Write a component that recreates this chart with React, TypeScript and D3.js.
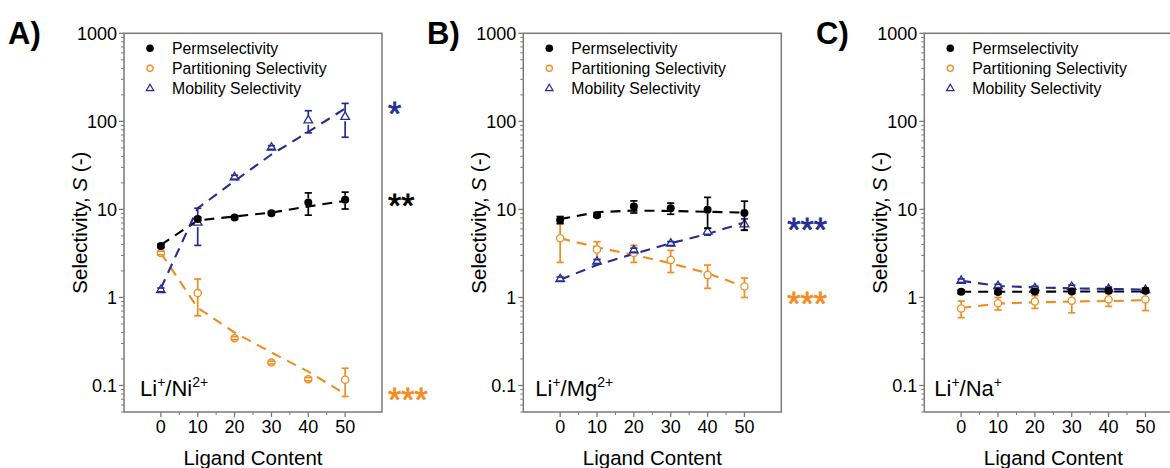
import React from 'react';
import * as d3 from 'd3';

// ---------- data ----------
const ligand = [0, 10, 20, 30, 40, 50];
const xTicks = [0, 10, 20, 30, 40, 50];
const xMinorTicks = [5, 15, 25, 35, 45];
const yTicks = [0.1, 1, 10, 100, 1000];
const yTickLabels = ['0.1', '1', '10', '100', '1000'];
const seriesNames = ['Permselectivity', 'Partitioning Selectivity', 'Mobility Selectivity'];

// Panel A: Li+/Ni2+
const niPerm = [3.85, 7.8, 8.1, 9.05, 12.0, 12.9];
const niPermErr = [0.18, 0.35, 0.35, 0.4, 3.4, 2.8];
const niPart = [3.2, 1.12, 0.345, 0.182, 0.118, 0.116];
const niPartErr = [0.15, 0.5, 0.014, 0.007, 0.005, 0.041];
const niMob = [1.22, 7.1, 23.2, 50.5, 103, 113];
const niMobErr = [0.06, 3.2, 1.2, 2.4, 29, 47];
const niPermFit = [3.95, 7.5, 8.3, 9.2, 10.8, 12.5];
const niPartFit = [3.2, 0.76, 0.4, 0.237, 0.144, 0.08];
const niMobFit = [1.27, 10.3, 21, 42, 76, 140];

// Panel B: Li+/Mg2+
const mgPerm = [7.6, 8.6, 10.8, 10.3, 9.9, 9.1];
const mgPermErr = [0.7, 0.4, 1.7, 1.5, 3.8, 3.3];
const mgPart = [4.7, 3.5, 3.2, 2.67, 1.8, 1.33];
const mgPartErr = [2.2, 0.8, 0.7, 0.75, 0.53, 0.33];
const mgMob = [1.62, 2.56, 3.45, 4.1, 5.6, 6.8];
const mgMobErr = [0.085, 0.13, 0.18, 0.21, 0.5, 1.0];
const mgPermFit = [7.75, 9.3, 9.7, 9.6, 9.4, 9.2];
const mgPartFit = [4.7, 3.72, 3.04, 2.45, 1.88, 1.33];
const mgMobFit = [1.59, 2.34, 3.13, 4.13, 5.27, 7.1];

// Panel C: Li+/Na+
const naPerm = [1.16, 1.15, 1.17, 1.17, 1.19, 1.19];
const naPermErr = [0.05, 0.05, 0.05, 0.05, 0.05, 0.05];
const naPart = [0.75, 0.86, 0.9, 0.92, 0.95, 0.95];
const naPartErr = [0.16, 0.14, 0.15, 0.25, 0.16, 0.24];
const naMob = [1.55, 1.35, 1.28, 1.32, 1.25, 1.22];
const naMobErr = [0.07, 0.06, 0.06, 0.06, 0.06, 0.06];
const naPermFit = [1.16, 1.16, 1.16, 1.17, 1.17, 1.17];
const naPartFit = [0.76, 0.85, 0.88, 0.9, 0.91, 0.93];
const naMobFit = [1.55, 1.35, 1.3, 1.27, 1.25, 1.23];

// significance annotations (text, series, y value)
const niStars = [
  { text: '*', series: 'mob', at: 150 },
  { text: '**', series: 'perm', at: 13.5 },
  { text: '***', series: 'part', at: 0.085 },
];
const mgStars = [
  { text: '***', series: 'mob', at: 7.2 },
  { text: '***', series: 'part', at: 1.04 },
];
const naStars: { text: string; series: string; at: number }[] = [];

// ---------- style ----------
const COLORS: Record<string, string> = { perm: '#000000', part: '#F28C1E', mob: '#262D92' };
const FONT = "'Liberation Sans', Arial, Helvetica, sans-serif";
const AXIS = '#7a7a7a';
const W = 258;
const H = 378.7;
const TOP = 33.3;

const panels = [
  {
    letter: 'A)', letterX: 8, left: 124, ion: ['Li', '+', '/Ni', '2+'], ionDx: 16,
    perm: niPerm, permErr: niPermErr, part: niPart, partErr: niPartErr, mob: niMob, mobErr: niMobErr,
    permFit: niPermFit, partFit: niPartFit, mobFit: niMobFit, stars: niStars,
  },
  {
    letter: 'B)', letterX: 427, left: 523.3, ion: ['Li', '+', '/Mg', '2+'], ionDx: 12,
    perm: mgPerm, permErr: mgPermErr, part: mgPart, partErr: mgPartErr, mob: mgMob, mobErr: mgMobErr,
    permFit: mgPermFit, partFit: mgPartFit, mobFit: mgMobFit, stars: mgStars,
  },
  {
    letter: 'C)', letterX: 816, left: 924.3, ion: ['Li', '+', '/Na', '+'], ionDx: 10,
    perm: naPerm, permErr: naPermErr, part: naPart, partErr: naPartErr, mob: naMob, mobErr: naMobErr,
    permFit: naPermFit, partFit: naPartFit, mobFit: naMobFit, stars: naStars,
  },
];

const x = d3.scaleLinear().domain([-10, 60]).range([0, W]);
const y = d3.scaleLog().domain([0.05, 1000]).range([H, 0]);

const yMinor: number[] = [];
for (let e = -2; e <= 2; e++) {
  for (let m = 2; m <= 9; m++) {
    const v = m * Math.pow(10, e);
    if (v >= 0.05 && v <= 1000) yMinor.push(v);
  }
}

const R: Record<string, number> = { perm: 4, part: 3.8, mob: 4.6 };

function Marker({ type, cx, cy, size = 1 }: { type: string; cx: number; cy: number; size?: number }) {
  const c = COLORS[type];
  if (type === 'perm') return <circle cx={cx} cy={cy} r={4 * size} fill={c} />;
  if (type === 'part')
    return <circle cx={cx} cy={cy} r={3.6 * size} fill="#fff" stroke={c} strokeWidth={1.3} />;
  const s = 4.8 * size;
  const pts = [
    [cx, cy - s],
    [cx + s * 0.9, cy + s * 0.55],
    [cx - s * 0.9, cy + s * 0.55],
  ]
    .map((p) => p.join(','))
    .join(' ');
  return <polygon points={pts} fill="#fff" stroke={c} strokeWidth={1.3} />;
}

function FitLine({ type, fit }: { type: string; fit: number[] }) {
  const c = COLORS[type];
  const line = d3
    .line<number>()
    .x((_, i) => x(ligand[i]))
    .y((d) => y(d))
    .curve(d3.curveLinear);
  return <path d={line(fit) || ''} fill="none" stroke={c} strokeWidth={2.1} strokeDasharray="10,7" />;
}

function Points({ type, vals, errs }: { type: string; vals: number[]; errs: number[] }) {
  const c = COLORS[type];
  const r = R[type];
  return (
    <g>
      {vals.map((v, i) => {
        const cx = x(ligand[i]);
        const cy = y(v);
        const yt = y(v + errs[i]);
        const yb = y(Math.max(v - errs[i], 0.051));
        return (
          <g key={i}>
            <Marker type={type} cx={cx} cy={cy} />
            {cy - r > yt && <line x1={cx} x2={cx} y1={yt} y2={cy - r} stroke={c} strokeWidth={1.7} />}
            {cy + r < yb && <line x1={cx} x2={cx} y1={cy + r} y2={yb} stroke={c} strokeWidth={1.7} />}
            <line x1={cx - 3.6} x2={cx + 3.6} y1={yt} y2={yt} stroke={c} strokeWidth={1.7} />
            <line x1={cx - 3.6} x2={cx + 3.6} y1={yb} y2={yb} stroke={c} strokeWidth={1.7} />
          </g>
        );
      })}
    </g>
  );
}

function Panel({ p }: { p: (typeof panels)[number] }) {
  const starFs = 34;
  return (
    <g>
      <text x={p.letterX} y={44} fontFamily={FONT} fontWeight="bold" fontSize={31} fill="#000">
        {p.letter}
      </text>
      <g transform={`translate(${p.left},${TOP})`}>
        {/* frame */}
        <rect x={0} y={0} width={W} height={H} fill="none" stroke={AXIS} strokeWidth={1.5} />
        {/* y ticks */}
        {yTicks.map((t, i) => (
          <g key={t}>
            <line x1={-5} x2={0} y1={y(t)} y2={y(t)} stroke={AXIS} strokeWidth={1.3} />
            <text x={-7} y={y(t)} dy="0.36em" textAnchor="end" fontFamily={FONT} fontSize={18} fill="#000">
              {yTickLabels[i]}
            </text>
          </g>
        ))}
        {yMinor.map((t) => (
          <line key={t} x1={-3} x2={0} y1={y(t)} y2={y(t)} stroke={AXIS} strokeWidth={1} />
        ))}
        {/* x ticks */}
        {xTicks.map((t) => (
          <g key={t}>
            <line x1={x(t)} x2={x(t)} y1={H} y2={H + 5} stroke={AXIS} strokeWidth={1.3} />
            <text x={x(t)} y={H + 21.5} textAnchor="middle" fontFamily={FONT} fontSize={18} fill="#000">
              {t}
            </text>
          </g>
        ))}
        {xMinorTicks.map((t) => (
          <line key={t} x1={x(t)} x2={x(t)} y1={H} y2={H + 3} stroke={AXIS} strokeWidth={1} />
        ))}
        {/* axis titles */}
        <text x={W / 2} y={H + 53} textAnchor="middle" fontFamily={FONT} fontSize={20.5} fill="#000">
          Ligand Content
        </text>
        <text
          transform={`translate(-37.5,${H / 2}) rotate(-90)`}
          textAnchor="middle"
          fontFamily={FONT}
          fontSize={20.5}
          fill="#000"
        >
          Selectivity, <tspan fontStyle="italic">S</tspan> (-)
        </text>
        {/* legend */}
        {['perm', 'part', 'mob'].map((s, i) => (
          <g key={s}>
            <Marker type={s} cx={26} cy={15 + i * 20} size={s === 'perm' ? 0.95 : 0.85} />
            <text x={48} y={15 + i * 20} dy="0.36em" fontFamily={FONT} fontSize={15.8} fill="#000">
              {seriesNames[i]}
            </text>
          </g>
        ))}
        {/* ion label */}
        <text x={p.ionDx} y={362.5} fontFamily={FONT} fontSize={22} fill="#000">
          {p.ion[0]}
          <tspan dy={-9} fontSize={14}>
            {p.ion[1]}
          </tspan>
          <tspan dy={9}>{p.ion[2]}</tspan>
          <tspan dy={-9} fontSize={14}>
            {p.ion[3]}
          </tspan>
        </text>
        {/* fits */}
        <FitLine type="perm" fit={p.permFit} />
        <FitLine type="part" fit={p.partFit} />
        <FitLine type="mob" fit={p.mobFit} />
        {/* points */}
        <Points type="part" vals={p.part} errs={p.partErr} />
        <Points type="mob" vals={p.mob} errs={p.mobErr} />
        <Points type="perm" vals={p.perm} errs={p.permErr} />
        {/* stars */}
        {p.stars.map((s, i) => (
          <text
            key={i}
            x={W + 6}
            y={y(s.at) + starFs * 0.57}
            fontFamily={FONT}
            fontSize={starFs}
            fill={COLORS[s.series]}
            stroke={COLORS[s.series]}
            strokeWidth={0.8}
          >
            {s.text}
          </text>
        ))}
      </g>
    </g>
  );
}

export default function App() {
  return (
    <svg
      width={1170}
      height={468}
      style={{ position: 'absolute', left: 0, top: 0, background: '#fff' }}
      xmlns="http://www.w3.org/2000/svg"
    >
      <rect width={1170} height={468} fill="#fff" />
      {panels.map((p) => (
        <Panel key={p.letter} p={p} />
      ))}
    </svg>
  );
}
